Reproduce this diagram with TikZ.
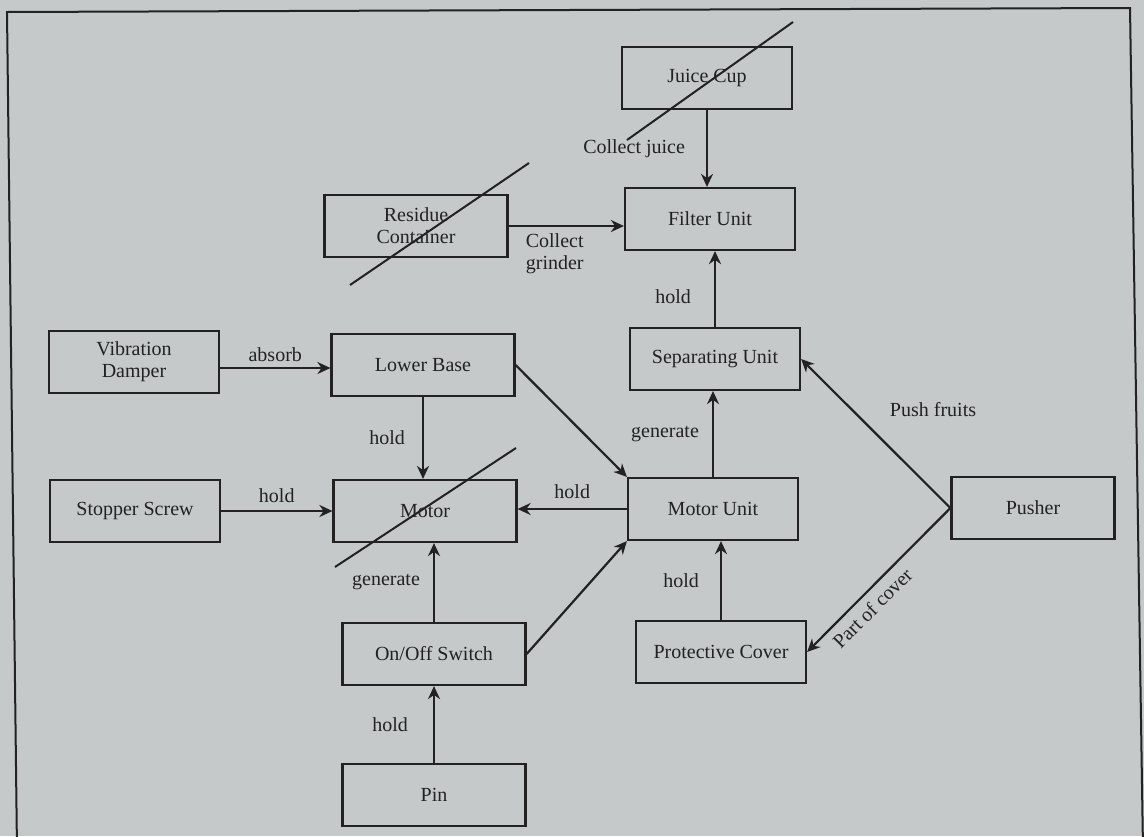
\documentclass[tikz,border=0pt]{standalone}
\usepackage{fontspec}
\setmainfont{Liberation Serif}
\usepackage{xcolor}
\definecolor{paper}{HTML}{C5C9CA}
\definecolor{ink}{HTML}{222222}
\usetikzlibrary{arrows.meta,positioning,calc}
\tikzset{
  >={Stealth[length=6.5pt,width=6pt]},
  part/.style    ={draw=ink,line width=1.1pt,minimum width=85pt,
                   minimum height=31pt,align=center,text=ink,
                   font=\fontsize{10}{11}\selectfont},
  widepart/.style={part,minimum width=91.5pt},
  lbl/.style     ={font=\fontsize{10}{11}\selectfont,text=ink,
                   inner sep=1.5pt,align=center},
  flow/.style    ={->,draw=ink,line width=1.1pt},
  strike/.style  ={draw=ink,line width=1pt},
}

\begin{document}
\begin{tikzpicture}[x=0.5pt,y=-0.5pt]
\useasboundingbox[fill=paper] (0,0) rectangle (1144,836);
\clip (0,0) rectangle (1144,836);
\draw[ink,line width=1pt] (17,850) -- (7,12) -- (1130,8) -- (1143,850);
\node[part] (jc) at (707,78) {Juice Cup};
\node[part] (fu) at (710,219) {Filter Unit};
\node[widepart] (rc) at (416,226) {Residue\\Container};
\node[part] (vd) at (134,362) {Vibration\\Damper};
\node[widepart] (lb) at (423,365) {Lower Base};
\node[part] (su) at (715,359) {Separating Unit};
\node[part] (ss) at (135,511) {Stopper Screw};
\node[widepart] (mo) at (425,511) {Motor};
\node[part] (mu) at (713,509) {Motor Unit};
\node[part,minimum width=81.5pt] (pu) at (1033,508) {Pusher};
\node[widepart] (os) at (434,654) {On/Off Switch};
\node[part] (pc) at (721,652) {Protective Cover};
\node[widepart] (pi) at (434,795) {Pin};
% crossed-out parts
\draw[strike] ([shift={(-80,62)}]jc.center) -- ([shift={(86,-56)}]jc.center);
\draw[strike] ([shift={(-66,59)}]rc.center) -- ([shift={(113,-63)}]rc.center);
\draw[strike] ([shift={(-90,56)}]mo.center) -- ([shift={(91,-63)}]mo.center);
\draw[flow] (jc.south) -- node[lbl,left=9pt] {Collect juice} (jc.south |- fu.north);
\draw[flow] (rc.east) -- node[lbl,below=2pt,pos=0.4] {Collect\\grinder} (rc.east -| fu.west);
\draw[flow] (su.north) -- node[lbl,left=10pt,pos=0.4] {hold} (su.north |- fu.south);
\draw[flow] ([yshift=-3pt]vd.east) -- node[lbl,above=1pt] {absorb} ([yshift=-3pt]vd.east -| lb.west);
\draw[flow] (lb.south) -- node[lbl,left=7pt] {hold} (lb.south |- mo.north);
\draw[flow] (ss.east) -- node[lbl,above=2pt] {hold} (ss.east -| mo.west);
\draw[flow] (mu.west) -- node[lbl,above=3pt] {hold} (mu.west -| mo.east);
\draw[flow] (os.north) -- node[lbl,left=5pt] {generate} (os.north |- mo.south);
\draw[flow] (mu.north) -- node[lbl,left=5pt] {generate} (mu.north |- su.south);
\draw[flow] (pc.north) -- node[lbl,left=9pt] {hold} (pc.north |- mu.south);
\draw[flow] (pi.north) -- node[lbl,left=11pt] {hold} (os.south);
\draw[flow] (lb.east) -- (mu.north west);
\draw[flow] (os.east) -- (mu.south west);
\draw[flow] (pu.west) -- node[lbl,pos=0.66,right=17pt] {Push fruits} (su.east);
\draw[flow] (pu.west) -- node[lbl,sloped,below=2pt,pos=0.62] {Part of cover} (pc.east);
\end{tikzpicture}
\end{document}
